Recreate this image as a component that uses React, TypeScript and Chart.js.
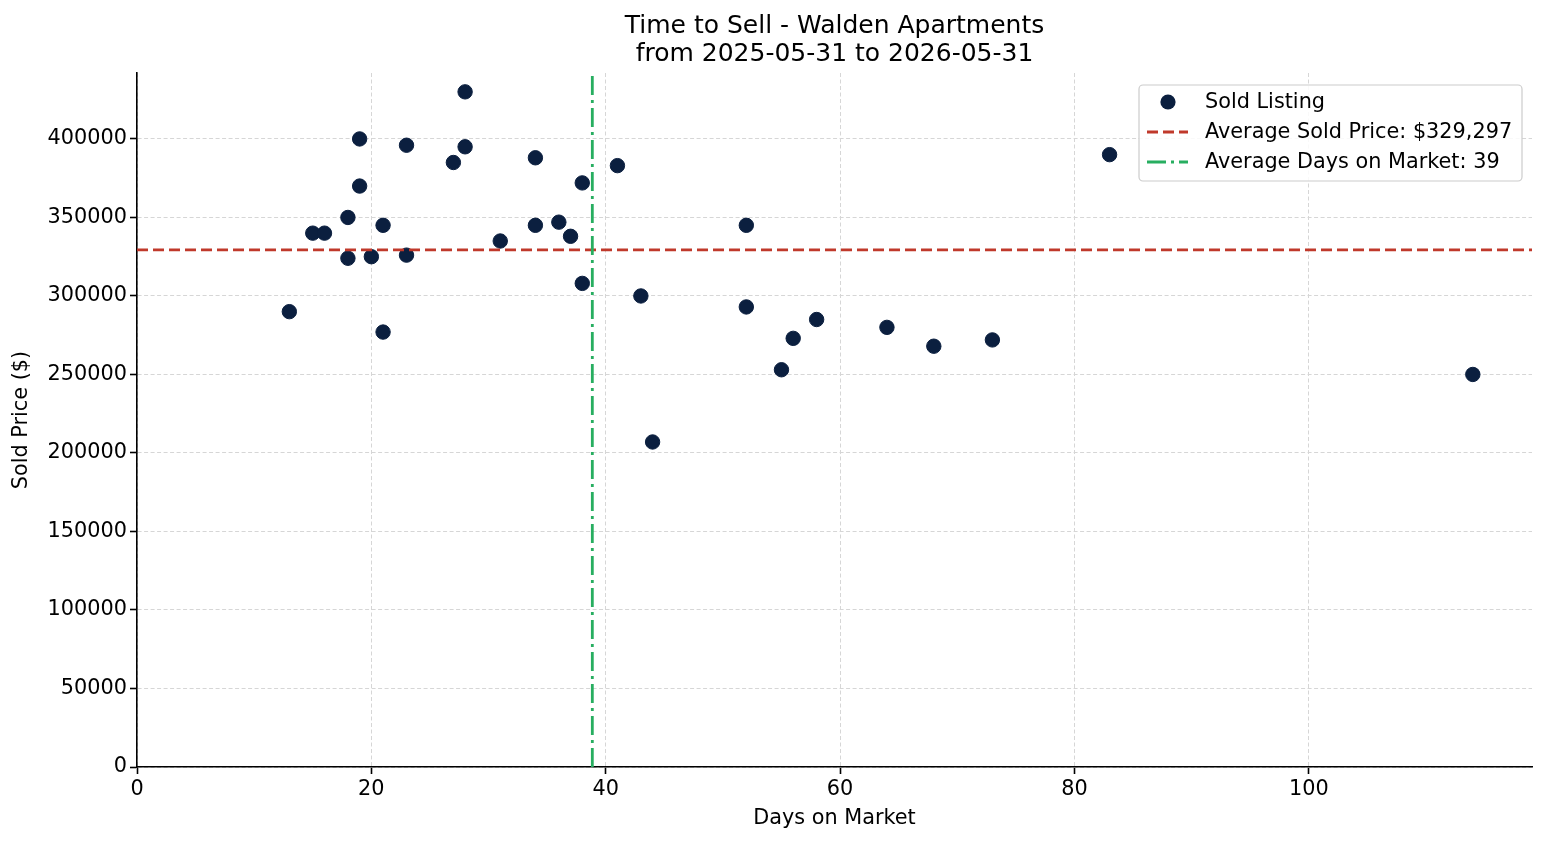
import React, { useEffect, useRef } from 'react';
import { Chart, registerables } from 'chart.js';

Chart.register(...registerables);

const FONT = '"DejaVu Sans", "Liberation Sans", sans-serif';
const LABEL_SIZE = 20.8;
const TITLE_SIZE = 25;

// Sold listings: days on market and final sold price
const daysOnMarket = [13, 15, 16, 18, 18, 19, 19, 20, 21, 21, 23, 23, 27, 28, 28, 31, 34, 34, 36, 37, 38, 38, 41, 43, 44, 52, 52, 55, 56, 58, 64, 68, 73, 83, 114];
const soldPrices = [290000, 340000, 340000, 350000, 324000, 400000, 370000, 325000, 345000, 277000, 396000, 326000, 385000, 430000, 395000, 335000, 388000, 345000, 347000, 338000, 372000, 308000, 383000, 300000, 207000, 345000, 293000, 253000, 273000, 285000, 280000, 268000, 272000, 390000, 250000];

const avgSoldPrice = 329297;
const avgDaysOnMarket = daysOnMarket.reduce((a, b) => a + b, 0) / daysOnMarket.length;

const xTickValues = [0, 20, 40, 60, 80, 100];
const yTickValues = [0, 50000, 100000, 150000, 200000, 250000, 300000, 350000, 400000];
const xRange = [0, 119.05];
const yRange = [0, 442000];

const titleLines = ['Time to Sell - Walden Apartments', 'from 2025-05-31 to 2026-05-31'];
const seriesLabels = [
  'Sold Listing',
  `Average Sold Price: $${Math.round(avgSoldPrice).toLocaleString('en-US')}`,
  `Average Days on Market: ${Math.round(avgDaysOnMarket)}`,
];

const POINT_COLOR = '#0b1f3f';
const PRICE_COLOR = '#c0392b';
const DAYS_COLOR = '#27ae60';
const PRICE_DASH = [11, 5];
const DAYS_DASH = [19, 5, 3, 5];

const W = 1547;
const H = 845;

const decorations = {
  id: 'decorations',
  afterDraw(chart: any) {
    const { ctx, chartArea } = chart;
    const cx = (chartArea.left + chartArea.right) / 2;
    ctx.save();
    // title
    ctx.fillStyle = '#000';
    ctx.font = `${TITLE_SIZE}px ${FONT}`;
    ctx.textAlign = 'center';
    ctx.textBaseline = 'middle';
    ctx.fillText(titleLines[0], cx, 26);
    ctx.fillText(titleLines[1], cx, 54);

    // legend box
    const bw = 383, bh = 96;
    const bx = chartArea.right - 10 - bw;
    const by = chartArea.top + 12;
    const r = 4;
    ctx.beginPath();
    ctx.moveTo(bx + r, by);
    ctx.arcTo(bx + bw, by, bx + bw, by + bh, r);
    ctx.arcTo(bx + bw, by + bh, bx, by + bh, r);
    ctx.arcTo(bx, by + bh, bx, by, r);
    ctx.arcTo(bx, by, bx + bw, by, r);
    ctx.closePath();
    ctx.fillStyle = 'rgba(255,255,255,0.85)';
    ctx.fill();
    ctx.strokeStyle = '#cccccc';
    ctx.lineWidth = 1.2;
    ctx.stroke();

    const rows = [by + 17, by + 47, by + 77];
    const hx1 = bx + 8, hx2 = bx + 49;
    // marker
    ctx.beginPath();
    ctx.arc((hx1 + hx2) / 2 + 0.5, rows[0], 7.6, 0, Math.PI * 2);
    ctx.fillStyle = POINT_COLOR;
    ctx.fill();
    // line samples
    ctx.lineWidth = 2.8;
    ctx.setLineDash(PRICE_DASH);
    ctx.strokeStyle = PRICE_COLOR;
    ctx.beginPath();
    ctx.moveTo(hx1, rows[1]);
    ctx.lineTo(hx2, rows[1]);
    ctx.stroke();
    ctx.setLineDash(DAYS_DASH);
    ctx.strokeStyle = DAYS_COLOR;
    ctx.beginPath();
    ctx.moveTo(hx1, rows[2]);
    ctx.lineTo(hx2, rows[2]);
    ctx.stroke();
    ctx.setLineDash([]);

    ctx.fillStyle = '#000';
    ctx.font = `${LABEL_SIZE}px ${FONT}`;
    ctx.textAlign = 'left';
    seriesLabels.forEach((t, i) => ctx.fillText(t, bx + 66, rows[i] + 1));
    ctx.restore();
  },
};

export default function App() {
  const ref = useRef<HTMLCanvasElement | null>(null);

  useEffect(() => {
    if (!ref.current) return;
    const points = daysOnMarket.map((d, i) => ({ x: d, y: soldPrices[i] }));
    const chart = new Chart(ref.current, {
      type: 'scatter',
      data: {
        datasets: [
          {
            label: seriesLabels[2],
            data: [
              { x: avgDaysOnMarket, y: yRange[0] },
              { x: avgDaysOnMarket, y: yRange[1] },
            ],
            showLine: true,
            borderColor: DAYS_COLOR,
            borderWidth: 2.8,
            borderDash: DAYS_DASH,
            pointRadius: 0,
            order: 1,
          } as any,
          {
            label: seriesLabels[1],
            data: [
              { x: xRange[0], y: avgSoldPrice },
              { x: xRange[1], y: avgSoldPrice },
            ],
            showLine: true,
            borderColor: PRICE_COLOR,
            borderWidth: 2.8,
            borderDash: PRICE_DASH,
            pointRadius: 0,
            order: 2,
          } as any,
          {
            label: seriesLabels[0],
            data: points,
            backgroundColor: POINT_COLOR,
            borderColor: POINT_COLOR,
            borderWidth: 1,
            pointRadius: 7.2,
            order: 3,
          },
        ],
      },
      options: {
        responsive: false,
        animation: false,
        devicePixelRatio: 1,
        layout: { padding: { top: 73, right: 15, left: 0, bottom: 0 } },
        plugins: {
          legend: { display: false },
          tooltip: { enabled: false },
          title: { display: false },
        },
        scales: {
          x: {
            type: 'linear',
            min: xRange[0],
            max: xRange[1],
            afterBuildTicks: (scale: any) => {
              scale.ticks = xTickValues.map((v) => ({ value: v }));
            },
            afterFit: (scale: any) => {
              scale.height = H - 767;
            },
            ticks: {
              color: '#000',
              font: { family: FONT, size: LABEL_SIZE },
              padding: 3,
              maxRotation: 0,
              callback: (v: any) => String(v),
            },
            grid: {
              color: '#d6d6d6',
              lineWidth: 1,
              tickColor: '#000',
              tickLength: 7,
              tickWidth: 1.6,
            },
            border: { display: true, color: '#000', width: 1.6, dash: [4, 2.5] },
            title: {
              display: true,
              text: 'Days on Market',
              color: '#000',
              font: { family: FONT, size: LABEL_SIZE },
              padding: { top: 0, bottom: 13.5 },
            },
          },
          y: {
            type: 'linear',
            min: yRange[0],
            max: yRange[1],
            afterBuildTicks: (scale: any) => {
              scale.ticks = yTickValues.map((v) => ({ value: v }));
            },
            afterFit: (scale: any) => {
              scale.width = 137;
            },
            ticks: {
              color: '#000',
              font: { family: FONT, size: LABEL_SIZE },
              padding: 3,
              callback: (v: any) => String(v),
            },
            grid: {
              color: '#d6d6d6',
              lineWidth: 1,
              tickColor: '#000',
              tickLength: 7,
              tickWidth: 1.6,
            },
            border: { display: true, color: '#000', width: 1.6, dash: [4, 2.5] },
            title: {
              display: true,
              text: 'Sold Price ($)',
              color: '#000',
              font: { family: FONT, size: LABEL_SIZE },
              padding: { top: 9, bottom: 0 },
            },
          },
        },
      },
      plugins: [decorations],
    });
    return () => chart.destroy();
  }, []);

  return (
    <div style={{ position: 'fixed', left: 0, top: 0, width: W, height: H, background: '#fff' }}>
      <canvas ref={ref} width={W} height={H} style={{ display: 'block', width: W, height: H }} />
    </div>
  );
}
